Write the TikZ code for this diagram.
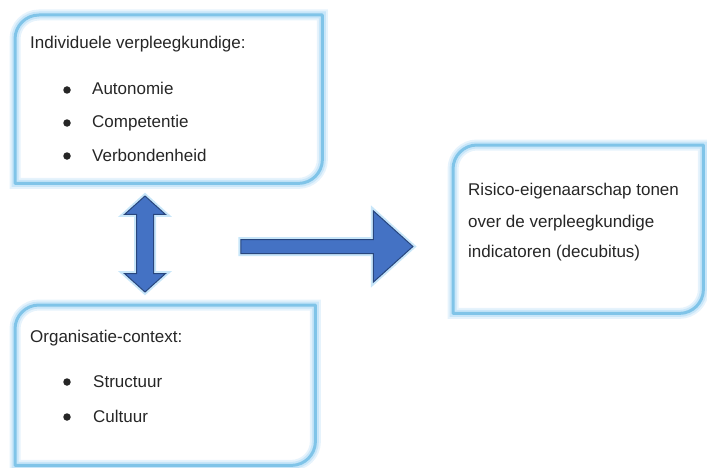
\documentclass[tikz,border=0pt]{standalone}
\usepackage{fontspec}
\setmainfont{Liberation Sans}
\usetikzlibrary{shapes.arrows}
\definecolor{framebl}{RGB}{128,196,232}
\definecolor{glowbl}{RGB}{200,230,249}
\definecolor{glowlt}{RGB}{230,243,252}
\definecolor{arrfill}{RGB}{68,114,196}
\definecolor{arrline}{RGB}{40,70,125}
\begin{document}
\begin{tikzpicture}[x=1pt, y=1pt,
        every node/.style={font=\fontsize{17}{20}\selectfont, text=black!85},
        box/.style={rectangle, anchor=north west, inner sep=0pt},
        frame/.style={draw=framebl, line width=3pt, line join=round,
            preaction={draw=glowlt, line width=11pt}, preaction={draw=glowbl, line width=7pt}},
        txt/.style={anchor=base west, inner sep=0pt},
        dot/.style={circle, fill=black!85, inner sep=0pt, minimum size=7.5pt},
        blockarr/.style={fill=arrfill, draw=arrline, line width=1pt, line join=miter,
            preaction={draw=glowbl, line width=5pt}, inner xsep=0pt}
    ]
    \useasboundingbox (0,0) rectangle (707,467);
    % the three boxes
    \node[box, minimum width=307pt, minimum height=168pt] (ind)  at (15,452)  {};
    \node[box, minimum width=300pt, minimum height=160pt] (org)  at (15,162)  {};
    \node[box, minimum width=250pt, minimum height=168pt] (risk) at (453,322) {};
    \foreach \b in {ind,org,risk}
        \draw[frame] (\b.south west) -- ([yshift=-24pt]\b.north west) arc[start angle=180, end angle=90, radius=24pt]
            -- (\b.north east) -- ([yshift=24pt]\b.south east) arc[start angle=0, end angle=-90, radius=24pt] -- cycle;
    % individuele verpleegkundige
    \node[txt] (indhead) at (30,418) {Individuele verpleegkundige:};
    \node[dot] (dot1) at (67,377) {};
    \node[txt] (ind1) at (92,372) {Autonomie};
    \node[dot] (dot2) at (67,344) {};
    \node[txt] (ind2) at (92,339) {Competentie};
    \node[dot] (dot3) at (67,311) {};
    \node[txt] (ind3) at (92,306) {Verbondenheid};
    % organisatie-context
    \node[txt] (orghead) at (30,125) {Organisatie-context:};
    \node[dot] (dot4) at (67,85) {};
    \node[txt] (org1) at (93,80) {Structuur};
    \node[dot] (dot5) at (67,50) {};
    \node[txt] (org2) at (93,45) {Cultuur};
    % risico-eigenaarschap
    \node[txt] (risk1) at (468,272) {Risico-eigenaarschap tonen};
    \node[txt] (risk2) at (468,240) {over de verpleegkundige};
    \node[txt] (risk3) at (468,210) {indicatoren (decubitus)};
    % block arrows
    \node[blockarr, double arrow, rotate=90, minimum height=96pt, inner ysep=8pt,
        double arrow head extend=12pt, double arrow tip angle=96] (updown) at (145,223) {};
    \node[blockarr, single arrow, minimum height=172pt, inner ysep=6.5pt,
        single arrow head extend=28.5pt, single arrow tip angle=84] (toright) at (323,220.5) {};
\end{tikzpicture}
\end{document}
